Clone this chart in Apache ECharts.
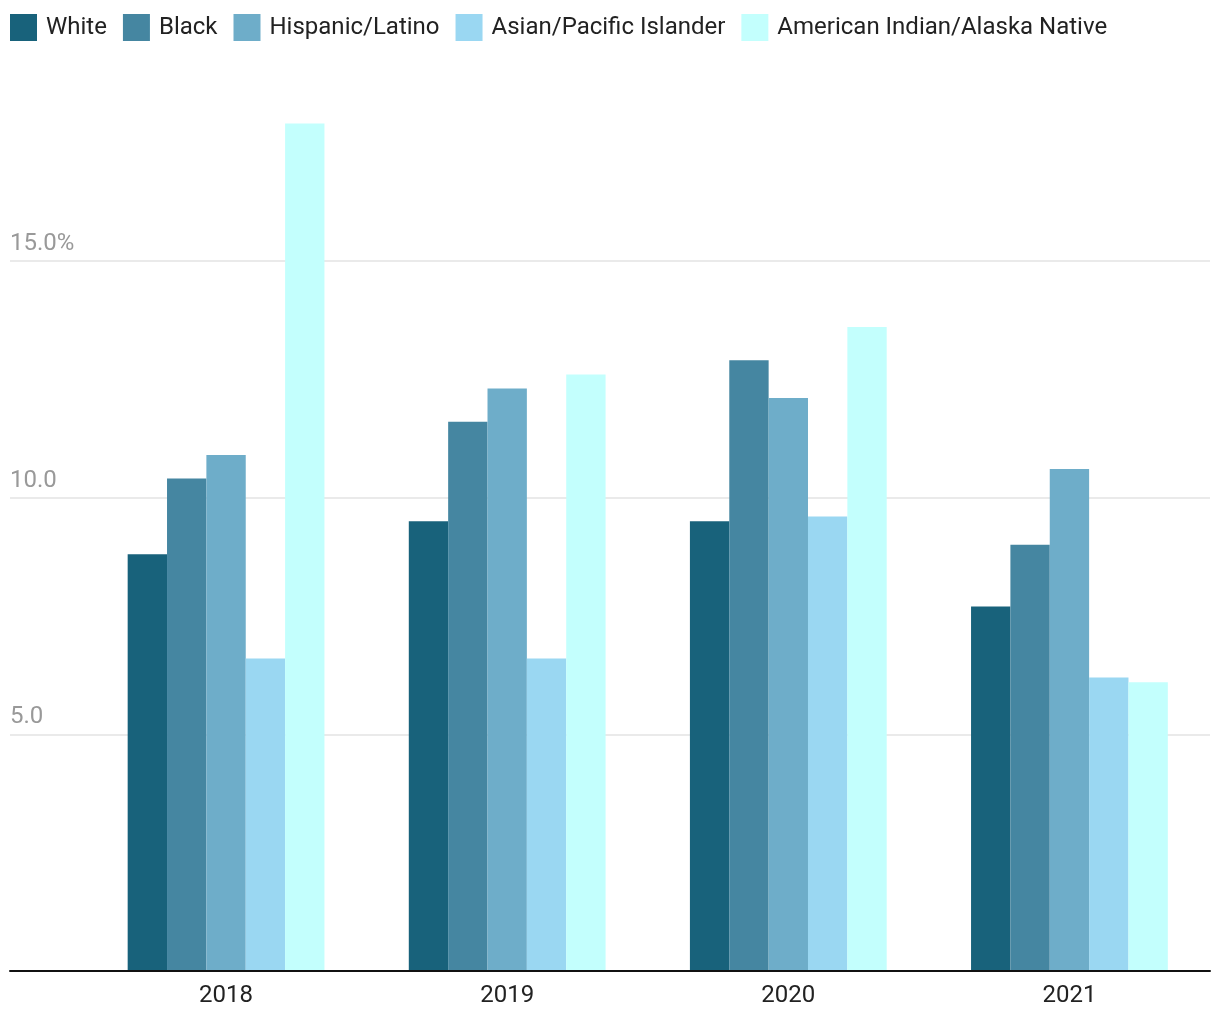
<!DOCTYPE html>
<html>
<head>
<meta charset="utf-8">
<script src="https://cdn.jsdelivr.net/npm/echarts@6/dist/echarts.min.js"></script>
<style>html,body{margin:0;padding:0;background:#fff}#c{width:1220px;height:1020px}</style>
</head>
<body>
<div id="c"></div>
<script>
var years = ['2018', '2019', '2020', '2021'];
var seriesNames = ['White', 'Black', 'Hispanic/Latino', 'Asian/Pacific Islander', 'American Indian/Alaska Native'];
var white = [8.8, 9.5, 9.5, 7.7];
var black = [10.4, 11.6, 12.9, 9.0];
var hispanic = [10.9, 12.3, 12.1, 10.6];
var asian = [6.6, 6.6, 9.6, 6.2];
var aian = [17.9, 12.6, 13.6, 6.1];
var colors = ['#18627b', '#4586a1', '#6eadc9', '#9ad7f2', '#c3fffd'];
var tickLabels = {5: '5.0', 10: '10.0', 15: '15.0%'};

var values = [white, black, hispanic, asian, aian];
var chart = echarts.init(document.getElementById('c'));
var font = 'Roboto, "Noto Sans", sans-serif';
chart.setOption({
  animation: false,
  textStyle: {fontFamily: font},
  legend: {
    left: 10, top: 14, padding: 0, itemWidth: 27, itemHeight: 27, itemGap: 16, icon: 'rect',
    textStyle: {fontSize: 24, color: '#222', fontFamily: font, padding: [0, 0, 0, 4]},
    data: seriesNames
  },
  grid: [
    {left: 10, right: 10, top: 24, bottom: 49},
    {left: 85.5, right: 10, top: 24, bottom: 49}
  ],
  xAxis: [
    {gridIndex: 0, type: 'value', min: 0, max: 1, axisLabel: {show: false}, axisTick: {show: false},
     splitLine: {show: false}, axisLine: {show: true, lineStyle: {color: '#111', width: 2}}, z: 10},
    {gridIndex: 1, type: 'category', data: years, axisLine: {show: false}, axisTick: {show: false},
     axisLabel: {fontSize: 24, color: '#222', margin: 13, fontFamily: font}}
  ],
  yAxis: [
    {gridIndex: 0, type: 'value', min: 0, max: 20, interval: 5,
     axisLine: {show: false}, axisTick: {show: false},
     axisLabel: {inside: true, margin: 0, fontSize: 24, color: '#999', verticalAlign: 'bottom', align: 'left',
       padding: [0, 0, 5, 0], fontFamily: font,
       formatter: function (v) { return tickLabels[v] || ''; }},
     splitLine: {show: true, showMinLine: false, showMaxLine: false, lineStyle: {color: '#e3e3e3', width: 1.5}}},
    {gridIndex: 1, type: 'value', min: 0, max: 20, interval: 5, show: false, splitLine: {show: false}}
  ],
  series: seriesNames.map(function (n, i) {
    return {
      name: n, type: 'bar', xAxisIndex: 1, yAxisIndex: 1, data: values[i],
      barGap: 0, barCategoryGap: '30%', itemStyle: {color: colors[i]}, z: 5
    };
  })
});
</script>
</body>
</html>
